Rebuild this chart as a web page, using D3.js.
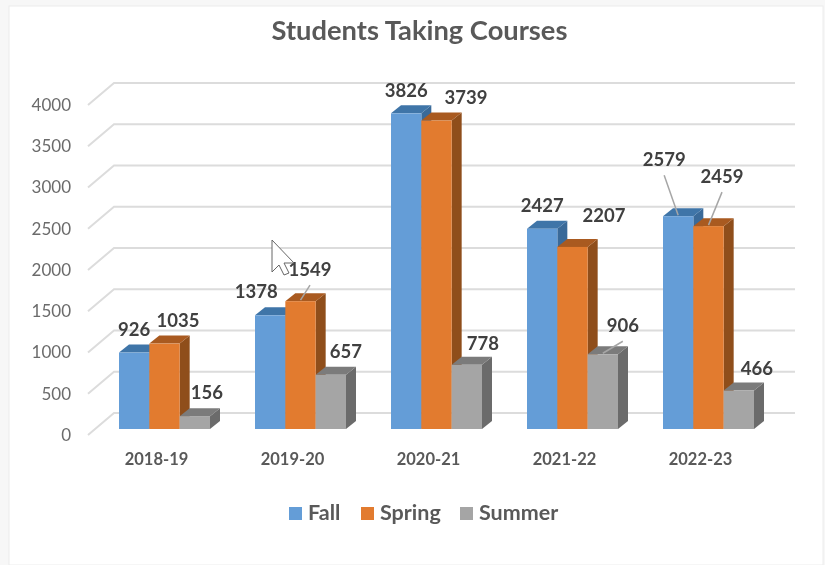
<!DOCTYPE html>
<html>
<head>
<meta charset="utf-8">
<style>
  html, body { margin: 0; background: #f7f7f7; }
  svg { display: block; font-family: Lato, "Noto Sans", sans-serif; filter: blur(0.45px); }
  .axis path { display: none; }
  .axis line { display: none; }
</style>
</head>
<body>
<script src="https://cdn.jsdelivr.net/npm/d3@7"></script>
<svg></svg>
<script>
const years = ['2018-19', '2019-20', '2020-21', '2021-22', '2022-23'];
const seriesNames = ['Fall', 'Spring', 'Summer'];
const fall = [926, 1378, 3826, 2427, 2579];
const spring = [1035, 1549, 3739, 2207, 2459];
const summer = [156, 657, 778, 906, 466];
const yTicks = [0, 500, 1000, 1500, 2000, 2500, 3000, 3500, 4000];

// hand placed label offsets from the top middle of each bar [dx, dy]
const fallLabelOffsets = [[0, -17], [-14, -17], [0, -16], [0, -17], [-14, -50]];
const springLabelOffsets = [[13.5, -17], [9.5, -25], [29.5, -16.5], [31.5, -25], [13.5, -43]];
const summerLabelOffsets = [[12, -17], [15, -17], [16, -15], [20, -22], [18, -16]];

// [series, year] of labels that got a leader line in the original
const leaders = [[0, 4], [1, 4], [1, 1], [2, 3]];

const width = 825;
const height = 565;
const depthX = 10;   // bar depth
const depthY = 8;

const colors = [
  { front: '#649dd7', top: '#3f75a8', side: '#3a6a99' },
  { front: '#e27b2f', top: '#a95a20', side: '#8f4e1b' },
  { front: '#a5a5a5', top: '#7b7b7b', side: '#6b6b6b' }
];

const values = [fall, spring, summer];
const labelOffsets = [fallLabelOffsets, springLabelOffsets, summerLabelOffsets];

const svg = d3.select('svg').attr('width', width).attr('height', height);

// panel
svg.append('rect')
  .attr('x', 9).attr('y', 6)
  .attr('width', 814).attr('height', height - 6)
  .attr('fill', '#fff')
  .attr('stroke', '#ececec');

const y = d3.scaleLinear().domain([0, 4000]).range([429, 99]);
const x0 = d3.scaleBand().domain(years).range([119, 754]).paddingInner(45 / 136);
const x1 = d3.scaleBand().domain(seriesNames).range([0, x0.bandwidth()]);

// gridlines on the back wall plus the slanted part on the left wall
const grid = svg.append('g')
  .attr('fill', 'none')
  .attr('stroke', '#dcdcdc')
  .attr('stroke-width', 2);

grid.selectAll('path')
  .data(yTicks)
  .join('path')
  .attr('d', d => `M88,${y(d) + 6}L114,${y(d) - 16}H795`);

// y axis sits on the front of the floor
const yFront = y.copy().range([y.range()[0] + 6, y.range()[1] + 6]);
const yAxis = svg.append('g')
  .attr('class', 'axis')
  .attr('transform', 'translate(80,0)')
  .call(d3.axisLeft(yFront).tickValues(yTicks).tickFormat(d3.format('d')).tickSize(0).tickPadding(9))
  .attr('font-family', null);
yAxis.selectAll('text')
  .attr('font-size', 17)
  .attr('fill', '#6b6b6b');

const xAxis = svg.append('g')
  .attr('class', 'axis')
  .attr('transform', 'translate(-8,453.5)')
  .call(d3.axisBottom(x0).tickSize(0).tickPadding(0))
  .attr('font-family', null);
xAxis.selectAll('text')
  .attr('font-size', 16.5)
  .attr('font-weight', 700)
  .attr('fill', '#595959');

// bars, drawn left to right so each front covers the side before it
const barData = years.flatMap((year, i) =>
  seriesNames.map((name, s) => ({ year, name, s, i, value: values[s][i] })));

const bar = svg.append('g')
  .selectAll('g')
  .data(barData)
  .join('g')
  .attr('transform', d => `translate(${x0(d.year) + x1(d.name)},${y(d.value)})`);

bar.append('path')
  .attr('fill', d => colors[d.s].side)
  .attr('d', d => {
    const w = x1.bandwidth();
    const h = y(0) - y(d.value);
    return `M${w},0l${depthX},${-depthY}v${h}l${-depthX},${depthY}z`;
  });

bar.append('path')
  .attr('fill', d => colors[d.s].top)
  .attr('d', () => {
    const w = x1.bandwidth();
    return `M0,0l${depthX},${-depthY}h${w}l${-depthX},${depthY}z`;
  });

bar.append('rect')
  .attr('width', x1.bandwidth())
  .attr('height', d => y(0) - y(d.value))
  .attr('fill', d => colors[d.s].front);

// leader lines
const barMid = d => x0(years[d[1]]) + x1(seriesNames[d[0]]) + x1.bandwidth() / 2;

svg.append('g')
  .selectAll('line')
  .data(leaders)
  .join('line')
  .attr('x1', d => barMid(d) + labelOffsets[d[0]][d[1]][0])
  .attr('y1', d => y(values[d[0]][d[1]]) + labelOffsets[d[0]][d[1]][1] + 9)
  .attr('x2', barMid)
  .attr('y2', d => y(values[d[0]][d[1]]) - 1)
  .attr('stroke', '#a6a6a6')
  .attr('stroke-width', 1.5);

// data labels
svg.append('g')
  .selectAll('text')
  .data(barData)
  .join('text')
  .attr('x', d => x0(d.year) + x1(d.name) + x1.bandwidth() / 2 + labelOffsets[d.s][d.i][0])
  .attr('y', d => y(d.value) + labelOffsets[d.s][d.i][1])
  .attr('text-anchor', 'middle')
  .attr('font-size', 18.5)
  .attr('font-weight', 700)
  .attr('fill', '#404040')
  .text(d => d.value);

// title
svg.append('text')
  .attr('x', 419.5)
  .attr('y', 40)
  .attr('text-anchor', 'middle')
  .attr('font-size', 27.3)
  .attr('font-weight', 700)
  .attr('fill', '#595959')
  .text('Students Taking Courses');

// legend
const legendX = d3.scaleOrdinal().domain(seriesNames).range([289, 361, 460]);
const legend = svg.append('g')
  .selectAll('g')
  .data(seriesNames)
  .join('g')
  .attr('transform', d => `translate(${legendX(d)},507)`);

legend.append('rect')
  .attr('width', 13)
  .attr('height', 13)
  .attr('fill', (d, i) => colors[i].front);

legend.append('text')
  .attr('x', 19)
  .attr('y', 13)
  .attr('font-size', 21.5)
  .attr('font-weight', 700)
  .attr('fill', '#595959')
  .text(d => d);

// mouse pointer caught in the screenshot
svg.append('path')
  .attr('transform', 'translate(272,240)')
  .attr('d', 'M0,0V32L7,25L12,35L17,33L12,23L22,23Z')
  .attr('fill', '#fff')
  .attr('stroke', '#666')
  .attr('stroke-width', 1);
</script>
</body>
</html>
